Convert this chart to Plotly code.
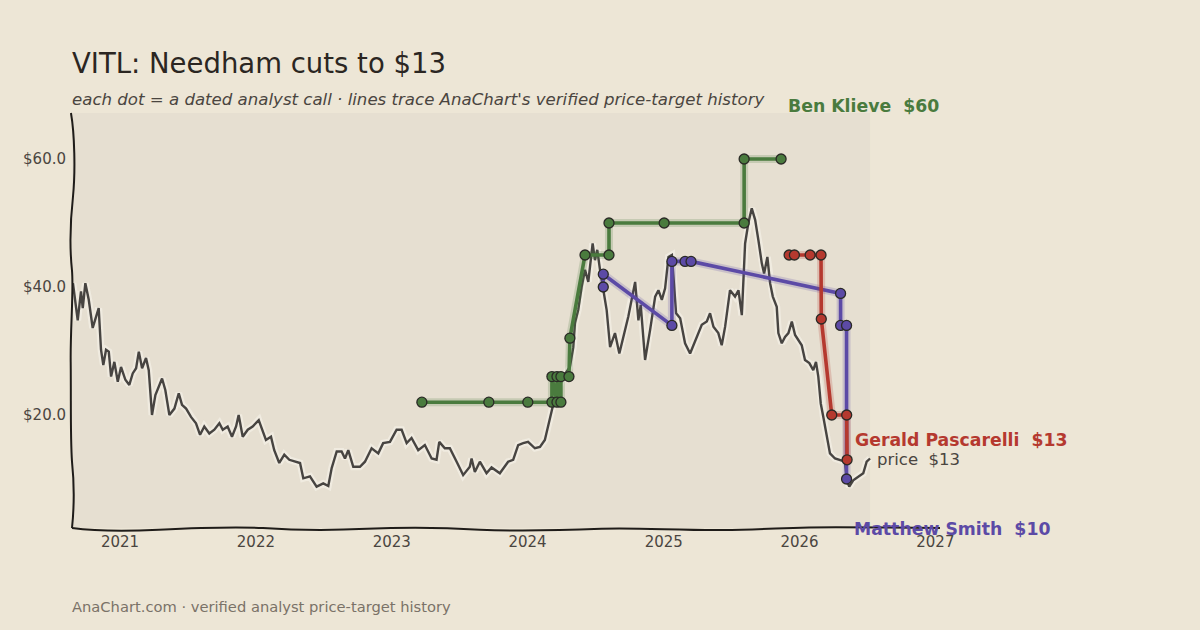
import pandas as pd
import plotly.graph_objects as go

# ---------------- data (dates as decimal years, values in USD) ----------------
price_t = [2020.654, 2020.689, 2020.713, 2020.726, 2020.745, 2020.770, 2020.799, 2020.823, 2020.843, 2020.860,
           2020.877, 2020.897, 2020.917, 2020.934, 2020.958, 2020.983, 2021.007, 2021.039, 2021.068, 2021.093,
           2021.118, 2021.138, 2021.162, 2021.191, 2021.211, 2021.235, 2021.260, 2021.309, 2021.333, 2021.363,
           2021.400, 2021.432, 2021.456, 2021.486, 2021.522, 2021.559, 2021.589, 2021.620, 2021.657, 2021.694,
           2021.731, 2021.756, 2021.792, 2021.824, 2021.854, 2021.873, 2021.903, 2021.940, 2021.976, 2022.021,
           2022.050, 2022.074, 2022.111, 2022.135, 2022.172, 2022.209, 2022.246, 2022.295, 2022.325, 2022.349,
           2022.398, 2022.447, 2022.496, 2022.533, 2022.558, 2022.595, 2022.631, 2022.656, 2022.680, 2022.717,
           2022.766, 2022.803, 2022.852, 2022.901, 2022.937, 2022.987, 2023.036, 2023.073, 2023.110, 2023.146,
           2023.195, 2023.244, 2023.294, 2023.330, 2023.350, 2023.391, 2023.428, 2023.478, 2023.526, 2023.575,
           2023.588, 2023.612, 2023.649, 2023.698, 2023.735, 2023.796, 2023.857, 2023.894, 2023.931, 2023.968,
           2024.004, 2024.054, 2024.091, 2024.127, 2024.152, 2024.188, 2024.225, 2024.262, 2024.311, 2024.336,
           2024.348, 2024.372, 2024.397, 2024.422, 2024.446, 2024.478, 2024.495, 2024.512, 2024.532, 2024.556,
           2024.581, 2024.606, 2024.642, 2024.674, 2024.703, 2024.740, 2024.790, 2024.814, 2024.831, 2024.863,
           2024.900, 2024.937, 2024.961, 2024.986, 2025.010, 2025.035, 2025.060, 2025.091, 2025.121, 2025.157,
           2025.194, 2025.243, 2025.280, 2025.317, 2025.341, 2025.366, 2025.402, 2025.427, 2025.452, 2025.488,
           2025.525, 2025.550, 2025.575, 2025.599, 2025.623, 2025.648, 2025.673, 2025.697, 2025.722, 2025.739,
           2025.763, 2025.783, 2025.803, 2025.832, 2025.844, 2025.869, 2025.893, 2025.918, 2025.943, 2025.967,
           2025.991, 2026.016, 2026.040, 2026.072, 2026.101, 2026.121, 2026.138, 2026.156, 2026.175, 2026.200,
           2026.224, 2026.261, 2026.298, 2026.334, 2026.347, 2026.366, 2026.395, 2026.432, 2026.469, 2026.494,
           2026.519]
price_v = [40.6, 34.8, 39.3, 36.7, 40.6, 38.0, 33.6, 35.2, 36.7, 30.2,
           27.8, 30.2, 29.9, 26.0, 28.3, 25.2, 27.5, 25.5, 24.7, 26.5,
           27.3, 29.9, 27.3, 28.9, 27.0, 20.0, 23.1, 25.7, 23.9, 20.0,
           21.0, 23.4, 21.6, 21.0, 19.7, 18.7, 16.9, 18.2, 17.1, 17.7,
           18.7, 17.7, 18.2, 16.6, 18.2, 20.0, 16.6, 17.7, 18.2, 19.2,
           17.4, 16.1, 16.6, 14.5, 12.5, 13.8, 13.0, 12.7, 12.5, 10.1,
           10.4, 8.8, 9.3, 8.9, 11.7, 14.3, 14.3, 13.2, 14.5, 11.9,
           11.9, 12.7, 14.8, 14.0, 15.6, 15.8, 17.7, 17.7, 15.6, 16.4,
           14.5, 15.3, 13.2, 13.0, 15.8, 14.8, 14.8, 12.7, 10.6, 11.9,
           13.2, 11.1, 12.7, 10.9, 11.8, 10.9, 12.7, 13.0, 15.3, 15.6,
           15.8, 14.8, 15.0, 16.1, 18.4, 21.6, 23.9, 26.0, 27.5, 30.6,
           34.4, 36.4, 40.0, 42.7, 40.8, 46.8, 44.2, 45.8, 42.7, 39.5,
           36.4, 30.6, 32.8, 29.6, 32.2, 35.4, 40.8, 34.8, 37.2, 28.6,
           33.3, 38.5, 39.5, 38.0, 39.8, 44.7, 45.0, 35.9, 35.1, 31.2,
           29.6, 32.2, 34.1, 34.6, 35.9, 33.8, 32.8, 30.9, 33.8, 39.5,
           38.5, 39.5, 35.6, 46.8, 50.0, 52.3, 50.5, 47.3, 43.7, 42.1,
           44.7, 40.6, 38.5, 36.9, 32.8, 31.2, 32.2, 32.8, 34.6, 32.5,
           31.7, 30.9, 28.6, 28.1, 27.0, 28.3, 26.0, 21.8, 19.7, 16.6,
           14.0, 13.2, 13.0, 12.7, 9.8, 8.8, 9.8, 10.4, 10.9, 12.7,
           13.2]

klieve_t = [2023.222, 2023.715, 2024.002, 2024.179, 2024.179, 2024.216, 2024.216, 2024.245, 2024.245,
            2024.304, 2024.311, 2024.422, 2024.598, 2024.598, 2025.003, 2025.592, 2025.592, 2025.864]
klieve_v = [22, 22, 22, 22, 26, 22, 26, 22, 26, 26, 32, 45, 45, 50, 50, 50, 60, 60]

smith_t = [2024.556, 2024.556, 2025.060, 2025.060, 2025.157, 2025.201, 2026.302, 2026.302, 2026.346, 2026.346]
smith_v = [40, 42, 34, 44, 44, 44, 39, 34, 34, 10]

pascarelli_t = [2025.923, 2025.962, 2026.078, 2026.158, 2026.160, 2026.237, 2026.347, 2026.350]
pascarelli_v = [45, 45, 45, 45, 35, 20, 20, 13]

year_ticks = [2021, 2022, 2023, 2024, 2025, 2026, 2027]
y_ticks = [20, 40, 60]
x_range = [2020.647, 2027.034]
y_range = [2.34, 67.19]

# layout geometry (pixels)
W, H = 1200, 630
M_L, M_R, M_T, M_B = 72, 260, 113, 102
PLOT_H = H - M_T - M_B


def py(pix):
    """pixel row -> paper y"""
    return (H - M_B - pix) / PLOT_H


# analyst: name, dates, values, colour, label x (decimal year), label row (px)
analysts = [
    ("Ben Klieve", klieve_t, klieve_v, "#4a7b3e", 2025.915, 106),
    ("Matthew Smith", smith_t, smith_v, "#5c4aa6", 2026.401, 529),
    ("Gerald Pascarelli", pascarelli_t, pascarelli_v, "#b5392f", 2026.408, 440),
]


def to_date(t):
    y = int(t)
    start = pd.Timestamp(year=y, month=1, day=1)
    end = pd.Timestamp(year=y + 1, month=1, day=1)
    return start + (end - start) * (t - y)


def dates(ts):
    return [to_date(t) for t in ts]


BG = "#EDE6D6"
PLOT_BG = "#E6DFD1"
INK = "#2b2622"
TICK = "#4a4540"
FONT = "DejaVu Sans"

fig = go.Figure()

# price line with soft halo
pd_dates = dates(price_t)
fig.add_trace(go.Scatter(x=pd_dates, y=price_v, mode="lines",
                         line=dict(color="rgba(250,247,240,0.5)", width=7),
                         hoverinfo="skip", showlegend=False))
fig.add_trace(go.Scatter(x=pd_dates, y=price_v, mode="lines",
                         line=dict(color="#474441", width=2.4),
                         showlegend=False, name="price"))

for name, ts, vs, col, lx, lrow in analysts:
    d = dates(ts)
    fig.add_trace(go.Scatter(x=d, y=vs, mode="lines",
                             line=dict(color=col, width=8), opacity=0.2,
                             hoverinfo="skip", showlegend=False))
    fig.add_trace(go.Scatter(x=d, y=vs, mode="lines+markers",
                             line=dict(color=col, width=3.6),
                             marker=dict(size=10, color=col, line=dict(color="#2a2a26", width=1.3)),
                             showlegend=False, name=name))
    fig.add_annotation(x=to_date(lx), y=py(lrow), xref="x", yref="paper",
                       text=f"<b>{name}  ${vs[-1]:.0f}</b>", xshift=-2,
                       showarrow=False, xanchor="left", yanchor="middle",
                       font=dict(family=FONT, size=17.3, color=col))

fig.add_annotation(x=to_date(2026.570), y=py(459), xref="x", yref="paper",
                   text=f"price  ${price_v[-1]:.0f}", xshift=-2,
                   showarrow=False, xanchor="left", yanchor="middle",
                   font=dict(family=FONT, size=16.5, color=TICK))

# shaded plotting region up to the last price date
fig.add_shape(type="rect", xref="x", yref="paper", x0=to_date(x_range[0]), x1=to_date(price_t[-1]),
              y0=0, y1=1, fillcolor=PLOT_BG, line=dict(width=0), layer="below")

# hand-drawn axes
fig.add_shape(type="path", xref="paper", yref="paper", layer="above",
              path="M -0.0012,1.0 C 0.003,0.95 0.004,0.86 0.0012,0.80 C -0.002,0.74 -0.003,0.68 0.0,0.62 "
                   "C 0.002,0.57 -0.002,0.48 -0.0015,0.40 C -0.001,0.30 -0.002,0.22 0.0,0.16 "
                   "C 0.003,0.10 0.0025,0.05 0.0,0.0",
              line=dict(color="#1f1c19", width=2))
fig.add_shape(type="path", xref="paper", yref="paper", layer="above",
              path="M 0.0,0.0 C 0.03,-0.008 0.06,-0.008 0.1,-0.004 C 0.14,0.0 0.18,0.004 0.22,0.0 "
                   "C 0.26,-0.006 0.30,-0.006 0.34,-0.002 C 0.38,0.002 0.43,0.001 0.47,-0.004 "
                   "C 0.51,-0.008 0.56,-0.006 0.61,-0.002 C 0.65,0.001 0.70,-0.006 0.75,-0.005 "
                   "C 0.80,-0.004 0.83,0.002 0.88,0.002 C 0.93,0.002 0.97,0.001 1.0,0.0",
              line=dict(color="#1f1c19", width=2))

fig.update_layout(
    width=W, height=H,
    paper_bgcolor=BG, plot_bgcolor=BG,
    margin=dict(l=M_L, r=M_R, t=M_T, b=M_B),
    font=dict(family=FONT, color=TICK),
    xaxis=dict(type="date", range=[to_date(x_range[0]), to_date(x_range[1])],
               tickvals=[pd.Timestamp(year=y, month=1, day=1) for y in year_ticks],
               ticktext=[str(y) for y in year_ticks],
               showgrid=False, zeroline=False, showline=False, ticks="",
               ticklabelstandoff=3,
               tickfont=dict(family=FONT, size=15, color=TICK)),
    yaxis=dict(range=y_range, tickvals=y_ticks, ticktext=[f"${v:.1f}" for v in y_ticks],
               showgrid=False, zeroline=False, showline=False, ticks="",
               ticklabelstandoff=5,
               tickfont=dict(family=FONT, size=15, color=TICK)),
    showlegend=False,
)

fig.add_annotation(xref="paper", yref="paper", x=0, y=py(63), text="VITL: Needham cuts to $13",
                   showarrow=False, xanchor="left", yanchor="middle", xshift=-2,
                   font=dict(family=FONT, size=27.5, color=INK))
fig.add_annotation(xref="paper", yref="paper", x=0, y=py(100),
                   text="<i>each dot = a dated analyst call · lines trace AnaChart's verified price-target history</i>",
                   showarrow=False, xanchor="left", yanchor="middle", xshift=-2,
                   font=dict(family=FONT, size=16.6, color="#4a4540"))
fig.add_annotation(xref="paper", yref="paper", x=0, y=py(606),
                   text="AnaChart.com · verified analyst price-target history",
                   showarrow=False, xanchor="left", yanchor="middle", xshift=-2,
                   font=dict(family=FONT, size=14.7, color="#7a7268"))

fig.write_html("out.html")
